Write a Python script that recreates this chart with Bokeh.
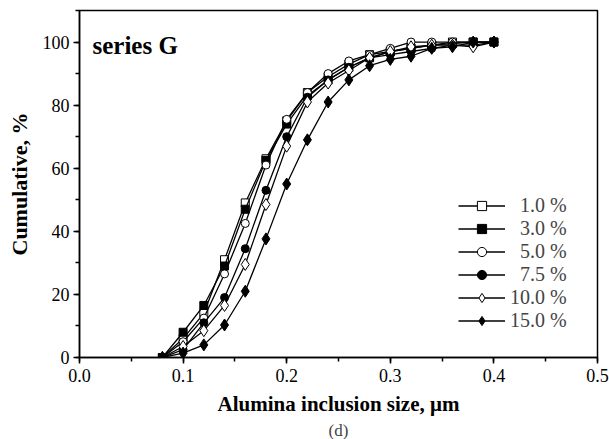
from bokeh.plotting import figure
from bokeh.models import (Range1d, Title, Label, Legend, LegendItem, SingleIntervalTicker,
                          PrintfTickFormatter)
from bokeh.embed import file_html
from bokeh.resources import INLINE

sizes = [0.08, 0.10, 0.12, 0.14, 0.16, 0.18, 0.20, 0.22, 0.24, 0.26, 0.28, 0.30, 0.32, 0.34, 0.36, 0.38, 0.40]

s_1_0 = [0, 6, 14, 31, 49, 63, 75, 84, 89, 93, 96, 97, 98, 99, 100, 100, 100]
s_3_0 = [0, 8, 16.5, 29, 47, 62.5, 74, 83, 88, 92, 95, 97, 98, 99, 99.5, 100, 100]
s_5_0 = [0, 5, 12.5, 26.5, 42.5, 61, 75.5, 84, 90, 94, 96, 98, 100, 100, 100, 100, 100]
s_7_5 = [0, 2.5, 11, 19, 34.5, 53, 70, 82.5, 88, 92, 95, 96, 97, 98, 99, 99, 100]
s_10_0 = [0, 3.5, 8.5, 16.5, 29.5, 48.5, 67, 81, 87, 91, 95, 97, 98.5, 99, 99, 98.5, 100]
s_15_0 = [0, 1.4, 4, 10.3, 21, 37.6, 55, 69, 81, 88, 92.5, 94.5, 95.5, 98, 98.5, 100, 100]

labels = ["1.0 %", "3.0 %", "5.0 %", "7.5 %", "10.0 %", "15.0 %"]
series = [s_1_0, s_3_0, s_5_0, s_7_5, s_10_0, s_15_0]
markers = ["square", "square", "circle", "circle", "diamond", "diamond"]
fills = ["white", "black", "white", "black", "white", "black"]
msizes = [8, 8, 8, 8, 12, 12]

FONT = "Liberation Serif"

p = figure(frame_width=518, frame_height=347, min_border_left=79, min_border_top=10,
           min_border_right=12, min_border_bottom=82,
           output_backend="svg", toolbar_location=None,
           x_range=Range1d(0, 0.5), y_range=Range1d(0, 110))
p.background_fill_color = "white"
p.border_fill_color = "white"
p.grid.visible = False
p.outline_line_color = "black"
p.outline_line_width = 1.5
p.outline_line_alpha = 1

p.xaxis.ticker = SingleIntervalTicker(interval=0.1, num_minor_ticks=2)
p.yaxis.ticker = SingleIntervalTicker(interval=20, num_minor_ticks=2)
p.xaxis.formatter = PrintfTickFormatter(format="%.1f")
p.yaxis.formatter = PrintfTickFormatter(format="%d")
for ax in (p.xaxis, p.yaxis):
    ax.axis_line_width = 1.5
    ax.major_tick_line_width = 1.5
    ax.minor_tick_line_width = 1.5
    ax.major_tick_in = 0
    ax.major_tick_out = 6
    ax.minor_tick_in = 0
    ax.minor_tick_out = 4
    ax.major_label_text_font = FONT
    ax.major_label_text_font_size = "18px"
    ax.major_label_text_color = "black"
    ax.axis_label_text_font = FONT
    ax.axis_label_text_font_size = "21px"
    ax.axis_label_text_font_style = "bold"
    ax.axis_label_text_color = "black"
p.xaxis.axis_label = "Alumina inclusion size, μm"
p.yaxis.axis_label = "Cumulative, %"
p.yaxis.axis_label_text_font_size = "22px"
p.xaxis.axis_label_standoff = 7
p.yaxis.axis_label_standoff = 8
p.xaxis.major_label_standoff = 5
p.yaxis.major_label_standoff = 4

items = []
for lab, ys, mk, fc, ms in zip(labels, series, markers, fills, msizes):
    r1 = p.line(sizes, ys, line_color="black", line_width=1.3)
    r2 = p.scatter(sizes, ys, marker=mk, size=ms, fill_color=fc, line_color="black", line_width=1)
    items.append(LegendItem(label="\u2007" + lab if len(lab) < 6 else lab, renderers=[r1, r2]))

legend = Legend(items=items, location=(379, 25), border_line_color=None,
                background_fill_alpha=0, padding=0, margin=0, spacing=0,
                glyph_width=47, glyph_height=23, label_height=23,
                label_text_font=FONT, label_text_font_size="20px",
                label_standoff=5)
p.add_layout(legend, "center")

p.add_layout(Label(x=13, y=347 - 48, x_units="screen", y_units="screen", text="series G",
                   text_font=FONT, text_font_size="25px", text_font_style="bold",
                   text_color="black"))

p.add_layout(Title(text="(d)", align="center", text_font=FONT, text_font_size="17px",
                   text_font_style="normal", standoff=0), "below")

open("out.html", "w").write(file_html(p, INLINE))
